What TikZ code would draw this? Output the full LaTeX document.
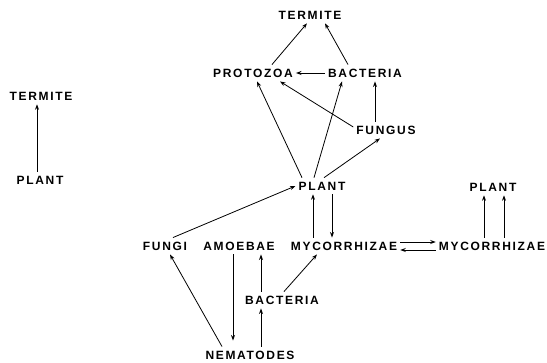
\documentclass[tikz,border=0pt]{standalone}
\usepackage{fontspec}
\newfontfamily\lblfont{Liberation Sans}[LetterSpace=14]
\usetikzlibrary{arrows.meta}
\begin{document}
\begin{tikzpicture}[x=1pt,y=-1pt,
  lbl/.style={font=\lblfont\bfseries\fontsize{12}{12}\selectfont, inner xsep=3pt, inner ysep=4pt},
  arr/.style={line width=0.8pt, -{Stealth[length=5.5pt,width=4pt]}}]
\useasboundingbox (0,0) rectangle (547,363);
% left
\node[lbl] (termL) at (41,96) {TERMITE};
\node[lbl] (plantL) at (40,180) {PLANT};
% top cluster
\node[lbl] (term) at (310,15) {TERMITE};
\node[lbl] (proto) at (253,73) {PROTOZOA};
\node[lbl] (bact) at (365,73) {BACTERIA};
\node[lbl] (fungus) at (386,130) {FUNGUS};
\node[lbl] (plant) at (322,186) {PLANT};
% lower
\node[lbl] (fungi) at (165,246) {FUNGI};
\node[lbl] (amoe) at (239,246) {AMOEBAE};
\node[lbl] (myco) at (344,246) {MYCORRHIZAE};
\node[lbl] (myco2) at (492,246) {MYCORRHIZAE};
\node[lbl] (plant2) at (493,187) {PLANT};
\node[lbl] (bact2) at (282,300) {BACTERIA};
\node[lbl] (nema) at (250,355) {NEMATODES};
% edges
\draw[arr] ([xshift=-3pt]plantL.north) -- ([xshift=-4pt]termL.south);
\draw[arr] ([xshift=19pt]proto.north) -- ([xshift=-3pt]term.south);
\draw[arr] ([xshift=-17pt]bact.north) -- ([xshift=15pt]term.south);
\draw[arr] (bact.west) -- (proto.east);
\draw[arr] ([xshift=-11pt]fungus.north) -- ([xshift=10pt]bact.south);
\draw[arr] ([yshift=3pt]fungus.west) -- ([xshift=27pt]proto.south);
\draw[arr] ([xshift=-20pt]plant.north) -- ([xshift=4pt]proto.south);
\draw[arr] ([xshift=-8pt]plant.north) -- ([xshift=-23pt]bact.south);
\draw[arr] ([xshift=2pt]plant.north) -- ([xshift=-6pt]fungus.south);
\draw[arr] ([xshift=8pt]fungi.north) -- (plant.west);
\draw[arr] ([xshift=-31pt]myco.north) -- ([xshift=-9pt]plant.south);
\draw[arr] ([xshift=10pt]plant.south) -- ([xshift=-12pt]myco.north);
\draw[arr] ([yshift=4pt]myco.east) -- ([yshift=4pt]myco2.west);
\draw[arr] ([yshift=-4pt]myco2.west) -- ([yshift=-4pt]myco.east);
\draw[arr] ([xshift=-8pt]myco2.north) -- ([xshift=-9pt]plant2.south);
\draw[arr] ([xshift=12pt]myco2.north) -- ([xshift=11pt]plant2.south);
\draw[arr] ([xshift=-6pt]amoe.south) -- ([xshift=-17pt,yshift=6pt]nema.north);
\draw[arr] ([xshift=-21pt]bact2.north) -- ([xshift=22pt]amoe.south);
\draw[arr] ([xshift=2pt]bact2.north) -- ([xshift=-27pt]myco.south);
\draw[arr] ([xshift=11pt]nema.north) -- ([xshift=-21pt]bact2.south);
\draw[arr] ([xshift=-28pt]nema.north) -- ([xshift=5pt]fungi.south);
\end{tikzpicture}
\end{document}
